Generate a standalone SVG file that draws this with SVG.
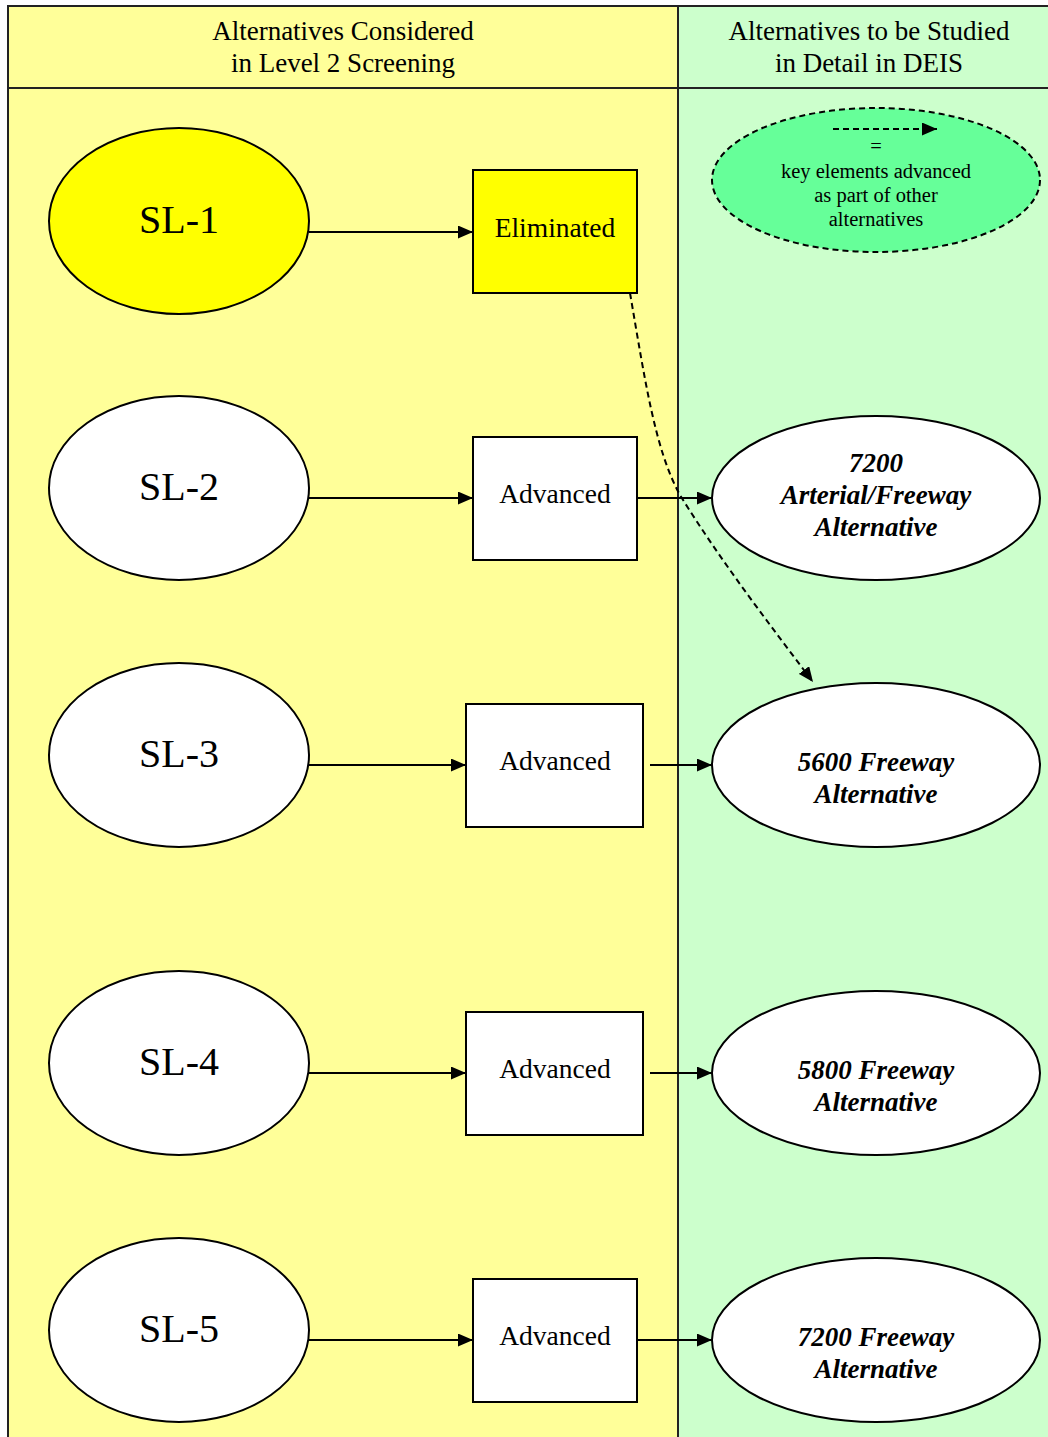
<svg xmlns="http://www.w3.org/2000/svg" width="1048" height="1437" viewBox="0 0 1048 1437">
<style>
.ln{stroke:#000;stroke-width:2;fill:none}
.sl{font-family:"Liberation Serif",serif;font-size:40px;text-anchor:middle;fill:#000}
.bx{font-family:"Liberation Serif",serif;font-size:27.5px;text-anchor:middle;fill:#000}
.hd{font-family:"Liberation Serif",serif;font-size:27px;text-anchor:middle;fill:#000}
.alt{font-family:"Liberation Serif",serif;font-size:27px;font-weight:bold;font-style:italic;text-anchor:middle;fill:#000}
.lg{font-family:"Liberation Serif",serif;font-size:20.5px;text-anchor:middle;fill:#000}
.node{stroke:#000;stroke-width:2}
</style>
<defs>
<marker id="ah" markerWidth="15" markerHeight="13" refX="15" refY="6.5" orient="auto" markerUnits="userSpaceOnUse">
<path d="M0,0 L15,6.5 L0,13 Z" fill="#000"/>
</marker>
<clipPath id="lgclip"><rect x="700" y="100" width="360" height="126"/></clipPath>
</defs>
<rect x="0" y="0" width="1048" height="1437" fill="#fff"/>
<g id="background">
<rect x="8" y="6" width="670" height="1440" fill="#FFFF99"/>
<rect x="678" y="6" width="380" height="1440" fill="#CCFFCC"/>
<path d="M8,1440 V6 H1050 M8,88 H1050 M678,6 V1440" stroke="#222" stroke-width="2" fill="none"/>
<text class="hd" x="343" y="40">Alternatives Considered</text>
<text class="hd" x="343" y="72">in Level 2 Screening</text>
<text class="hd" x="869" y="40">Alternatives to be Studied</text>
<text class="hd" x="869" y="72">in Detail in DEIS</text>
</g>
<g id="legend">
<ellipse cx="876" cy="180" rx="164" ry="72" fill="#66FF99" stroke="#000" stroke-width="2" stroke-dasharray="6,4"/>
<line x1="833" y1="129" x2="937" y2="129" class="ln" stroke-dasharray="6,4" marker-end="url(#ah)"/>
<text class="lg" x="876" y="153" font-size="16">=</text>
<g clip-path="url(#lgclip)">
<text class="lg" x="876" y="178">key elements advanced</text>
<text class="lg" x="876" y="202">as part of other</text>
<text class="lg" x="876" y="226">alternatives</text>
</g>
</g>
<g id="connectors">
<line x1="309" y1="232" x2="473" y2="232" class="ln" marker-end="url(#ah)"/>
<line x1="309" y1="498" x2="473" y2="498" class="ln" marker-end="url(#ah)"/>
<line x1="309" y1="765" x2="466" y2="765" class="ln" marker-end="url(#ah)"/>
<line x1="309" y1="1073" x2="466" y2="1073" class="ln" marker-end="url(#ah)"/>
<line x1="309" y1="1340" x2="473" y2="1340" class="ln" marker-end="url(#ah)"/>
<line x1="637" y1="498" x2="712" y2="498" class="ln" marker-end="url(#ah)"/>
<line x1="650" y1="765" x2="712" y2="765" class="ln" marker-end="url(#ah)"/>
<line x1="650" y1="1073" x2="712" y2="1073" class="ln" marker-end="url(#ah)"/>
<line x1="637" y1="1340" x2="712" y2="1340" class="ln" marker-end="url(#ah)"/>
<path d="M630,293 C645,380 655,450 680,495 C720,560 770,625 813,682" class="ln" stroke-dasharray="6,4" marker-end="url(#ah)"/>
</g>
<g id="sl1"><ellipse cx="179" cy="221" rx="130" ry="93" fill="#FFFF00" class="node"/><text class="sl" x="179" y="233">SL-1</text></g>
<g id="sl2"><ellipse cx="179" cy="488" rx="130" ry="92" fill="#fff" class="node"/><text class="sl" x="179" y="500">SL-2</text></g>
<g id="sl3"><ellipse cx="179" cy="755" rx="130" ry="92" fill="#fff" class="node"/><text class="sl" x="179" y="767">SL-3</text></g>
<g id="sl4"><ellipse cx="179" cy="1063" rx="130" ry="92" fill="#fff" class="node"/><text class="sl" x="179" y="1075">SL-4</text></g>
<g id="sl5"><ellipse cx="179" cy="1330" rx="130" ry="92" fill="#fff" class="node"/><text class="sl" x="179" y="1342">SL-5</text></g>
<g id="eliminated"><rect x="473" y="170" width="164" height="123" fill="#FFFF00" class="node"/><text class="bx" x="555" y="237">Eliminated</text></g>
<g id="adv2"><rect x="473" y="437" width="164" height="123" fill="#fff" class="node"/><text class="bx" x="555" y="503">Advanced</text></g>
<g id="adv3"><rect x="466" y="704" width="177" height="123" fill="#fff" class="node"/><text class="bx" x="555" y="770">Advanced</text></g>
<g id="adv4"><rect x="466" y="1012" width="177" height="123" fill="#fff" class="node"/><text class="bx" x="555" y="1078">Advanced</text></g>
<g id="adv5"><rect x="473" y="1279" width="164" height="123" fill="#fff" class="node"/><text class="bx" x="555" y="1345">Advanced</text></g>
<g id="alt7200af"><ellipse cx="876" cy="498" rx="164" ry="82" fill="#fff" class="node"/>
<text class="alt" x="876" y="472">7200</text><text class="alt" x="876" y="504">Arterial/Freeway</text><text class="alt" x="876" y="536">Alternative</text></g>
<g id="alt5600"><ellipse cx="876" cy="765" rx="164" ry="82" fill="#fff" class="node"/>
<text class="alt" x="876" y="771">5600 Freeway</text><text class="alt" x="876" y="803">Alternative</text></g>
<g id="alt5800"><ellipse cx="876" cy="1073" rx="164" ry="82" fill="#fff" class="node"/>
<text class="alt" x="876" y="1079">5800 Freeway</text><text class="alt" x="876" y="1111">Alternative</text></g>
<g id="alt7200f"><ellipse cx="876" cy="1340" rx="164" ry="82" fill="#fff" class="node"/>
<text class="alt" x="876" y="1346">7200 Freeway</text><text class="alt" x="876" y="1378">Alternative</text></g>
</svg>
